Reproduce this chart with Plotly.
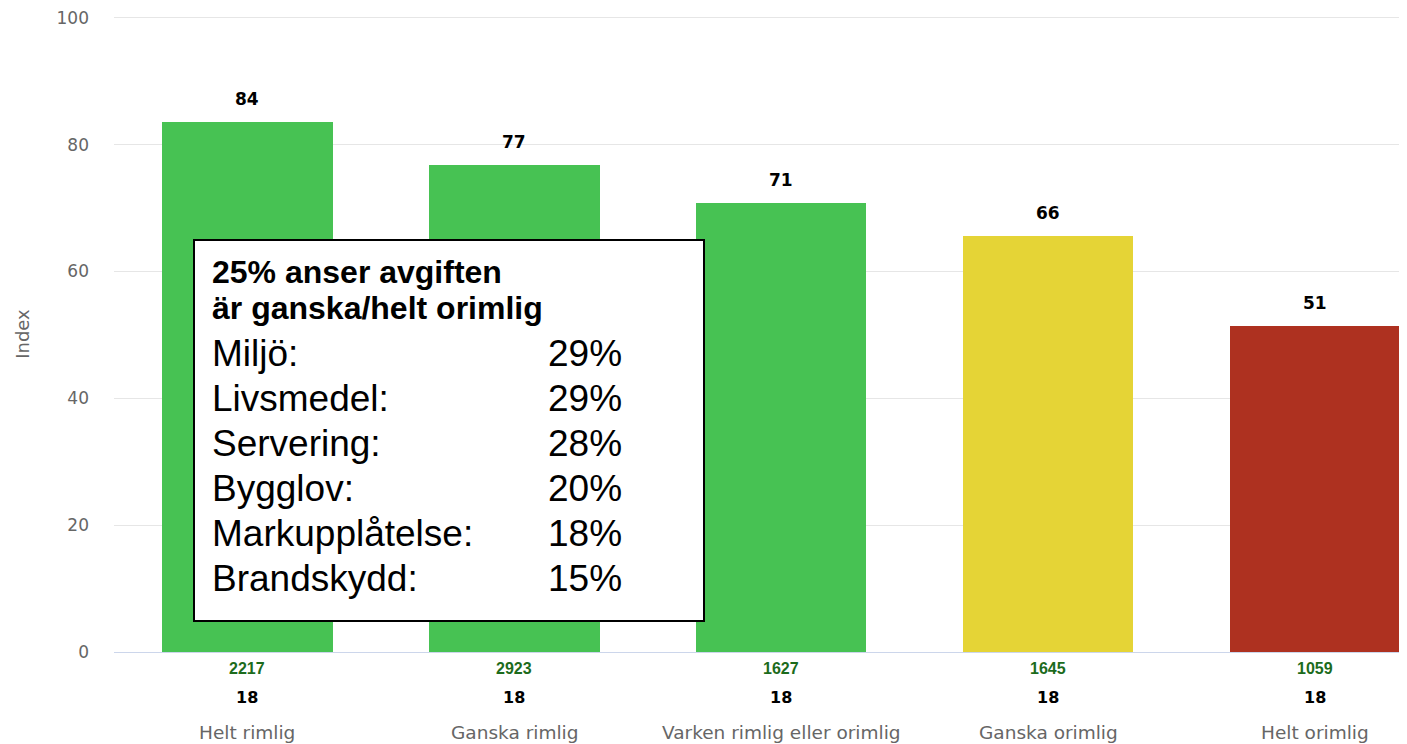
import plotly.graph_objects as go

categories = ["Helt rimlig", "Ganska rimlig", "Varken rimlig eller orimlig", "Ganska orimlig", "Helt orimlig"]
index_values = [83.6, 76.8, 70.8, 65.6, 51.4]
bar_labels = ["84", "77", "71", "66", "51"]
answers = ["2217", "2923", "1627", "1645", "1059"]
scale_pos = ["18", "18", "18", "18", "18"]
bar_colors = ["#47c253", "#47c253", "#47c253", "#e5d436", "#ae3120"]

box_title = ["25% anser avgiften", "är ganska/helt orimlig"]
box_labels = ["Miljö:", "Livsmedel:", "Servering:", "Bygglov:", "Markupplåtelse:", "Brandskydd:"]
box_values = ["29%", "29%", "28%", "20%", "18%", "15%"]

# page body has an 8px margin, so the figure is offset by that much
OFF = 8
W, H = 1407 - OFF, 744 - OFF
L, R, T, B = 106, 0, 8, 92


def px(x):
    return (x - OFF - L) / (W - L - R)


def py(y):
    return (H - B - (y - OFF)) / (H - T - B)


fig = go.Figure(go.Bar(
    x=categories, y=index_values, marker=dict(color=bar_colors, line=dict(width=0)),
    width=0.637, hoverinfo="x+y",
))

ann = []
for c, v, lab, a, s in zip(categories, index_values, bar_labels, answers, scale_pos):
    ann.append(dict(x=c, y=v, xref="x", yref="y", text="<b>" + lab + "</b>", showarrow=False,
                    yanchor="middle", yshift=23, font=dict(family="DejaVu Sans", size=17, color="#000")))
    ann.append(dict(x=c, y=0, xref="x", yref="paper", text="<b>" + a + "</b>", showarrow=False,
                    yanchor="middle", yshift=-16, font=dict(family="Liberation Sans", size=16, color="#1c6b1c")))
    ann.append(dict(x=c, y=0, xref="x", yref="paper", text="<b>" + s + "</b>", showarrow=False,
                    yanchor="middle", yshift=-45, font=dict(family="DejaVu Sans", size=16, color="#000")))
    ann.append(dict(x=c, y=0, xref="x", yref="paper", text=c, showarrow=False,
                    yanchor="middle", yshift=-80, font=dict(family="DejaVu Sans", size=18.5, color="#666")))

# text box
for i, t in enumerate(box_title):
    ann.append(dict(x=px(210), y=py(272 + 36 * i), xref="paper", yref="paper", text="<b>" + t + "</b>",
                    showarrow=False, xanchor="left", yanchor="middle",
                    font=dict(family="Liberation Sans", size=32, color="#000")))
for i, (lab, val) in enumerate(zip(box_labels, box_values)):
    yy = py(353 + 45 * i)
    ann.append(dict(x=px(210), y=yy, xref="paper", yref="paper", text=lab, showarrow=False,
                    xanchor="left", yanchor="middle", font=dict(family="Liberation Sans", size=37, color="#000")))
    ann.append(dict(x=px(624), y=yy, xref="paper", yref="paper", text=val, showarrow=False,
                    xanchor="right", yanchor="middle", font=dict(family="Liberation Sans", size=37, color="#000")))

fig.update_layout(
    width=W, height=H,
    margin=dict(l=L, r=R, t=T, b=B),
    plot_bgcolor="white", paper_bgcolor="white",
    showlegend=False,
    bargap=0,
    xaxis=dict(range=[-0.5, 4.343], showticklabels=False, showgrid=False, ticks="",
               showline=True, linecolor="#ccd6eb", linewidth=1, zeroline=False),
    yaxis=dict(range=[0, 100.3], tickvals=[0, 20, 40, 60, 80, 100], showgrid=True, gridcolor="#e6e6e6",
               zeroline=False, ticks="", ticklabelstandoff=24, ticklabeloverflow="allow",
               tickfont=dict(family="DejaVu Sans", size=17, color="#666"),
               title=dict(text="Index", standoff=22, font=dict(family="DejaVu Sans", size=18, color="#666"))),
    shapes=[dict(type="rect", xref="paper", yref="paper", x0=px(194), x1=px(704), y0=py(621), y1=py(240),
                 line=dict(color="#000", width=2), fillcolor="white", layer="above")],
    annotations=ann,
)

fig.write_html("out.html")
